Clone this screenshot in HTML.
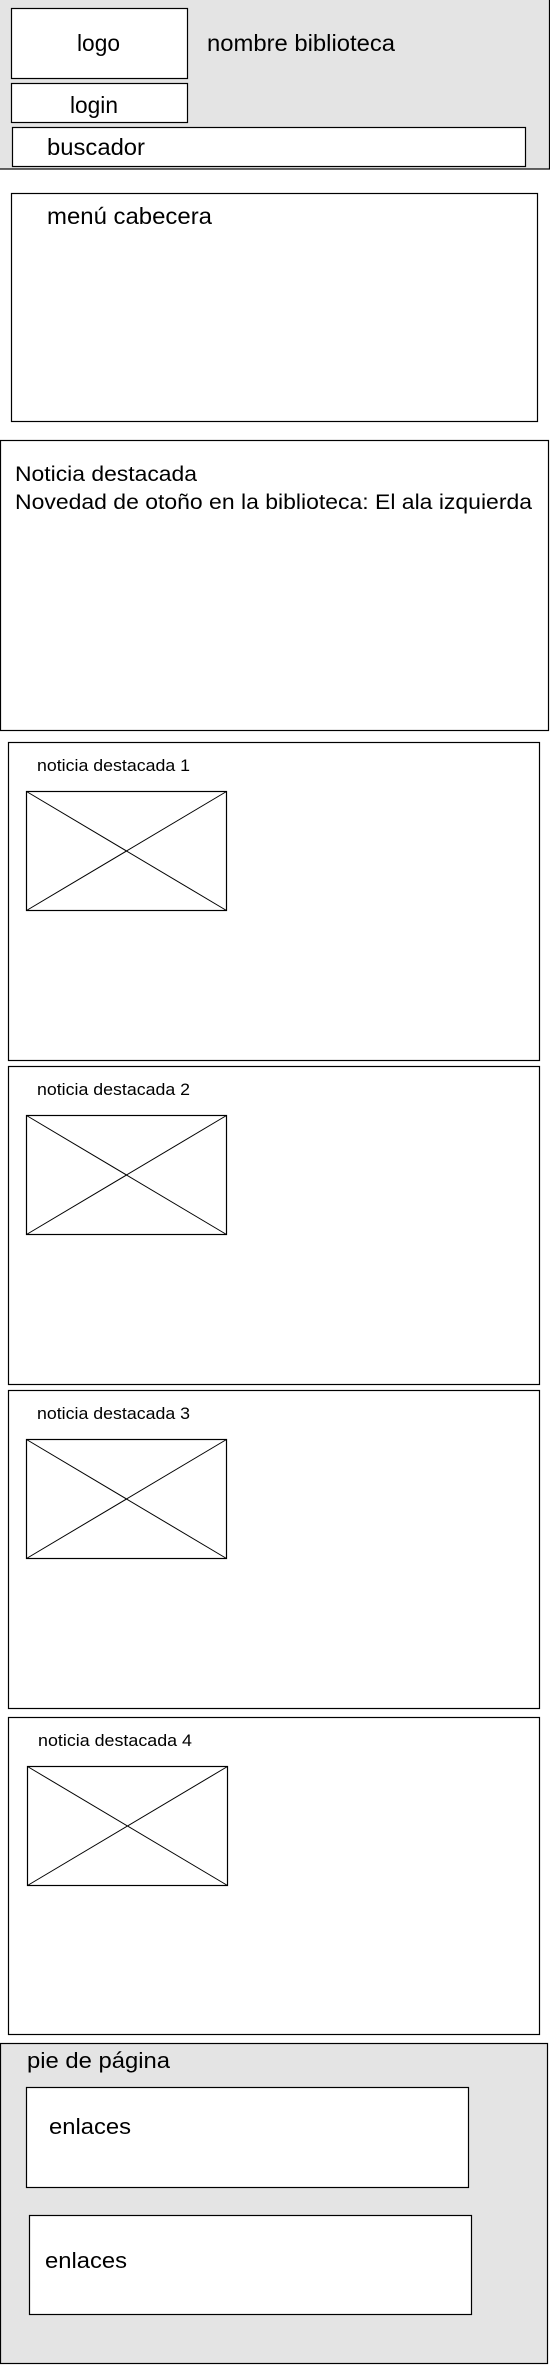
<!DOCTYPE html>
<html><head><meta charset="utf-8"><style>
html,body{margin:0;padding:0;background:#fff;}
svg{display:block;}
text{font-family:"Liberation Sans",Arial,sans-serif;fill:#000;}
</style></head><body>
<svg width="550" height="2365" viewBox="0 0 550 2365">
<g>
<rect x="-2" y="-2" width="551.5" height="171" fill="#e4e4e4" stroke="#000" stroke-width="1.2"/>
<rect x="11.5" y="8.5" width="176" height="70" fill="#fff" stroke="#000" stroke-width="1.2"/>
<text x="77" y="51" font-size="23" textLength="43" lengthAdjust="spacingAndGlyphs">logo</text>
<text x="207" y="51" font-size="23" textLength="188" lengthAdjust="spacingAndGlyphs">nombre biblioteca</text>
<rect x="11.5" y="83.5" width="176" height="39" fill="#fff" stroke="#000" stroke-width="1.2"/>
<text x="70" y="113" font-size="23" textLength="48" lengthAdjust="spacingAndGlyphs">login</text>
<rect x="12.5" y="127.5" width="513" height="39" fill="#fff" stroke="#000" stroke-width="1.2"/>
<text x="47" y="155" font-size="23" textLength="98" lengthAdjust="spacingAndGlyphs">buscador</text>
</g>
<g>
<rect x="11.5" y="193.5" width="526" height="228" fill="#fff" stroke="#000" stroke-width="1.2"/>
<text x="47" y="224" font-size="23" textLength="165" lengthAdjust="spacingAndGlyphs">menú cabecera</text>
</g>
<g>
<rect x="0.5" y="440.5" width="548" height="290" fill="#fff" stroke="#000" stroke-width="1.2"/>
<text x="15" y="481" font-size="21" textLength="182" lengthAdjust="spacingAndGlyphs">Noticia destacada</text>
<text x="15" y="509" font-size="21" textLength="517" lengthAdjust="spacingAndGlyphs">Novedad de otoño en la biblioteca: El ala izquierda</text>
</g>
<g>
<rect x="8.5" y="742.5" width="531" height="318" fill="#fff" stroke="#000" stroke-width="1.2"/>
<text x="37" y="771" font-size="16.5" textLength="153" lengthAdjust="spacingAndGlyphs">noticia destacada 1</text>
<g><rect x="26.5" y="791.5" width="200" height="119" fill="none" stroke="#000" stroke-width="1.2"/><line x1="26.5" y1="791.5" x2="226.5" y2="910.5" stroke="#000"/><line x1="226.5" y1="791.5" x2="26.5" y2="910.5" stroke="#000"/></g>
</g>
<g>
<rect x="8.5" y="1066.5" width="531" height="318" fill="#fff" stroke="#000" stroke-width="1.2"/>
<text x="37" y="1095" font-size="16.5" textLength="153" lengthAdjust="spacingAndGlyphs">noticia destacada 2</text>
<g><rect x="26.5" y="1115.5" width="200" height="119" fill="none" stroke="#000" stroke-width="1.2"/><line x1="26.5" y1="1115.5" x2="226.5" y2="1234.5" stroke="#000"/><line x1="226.5" y1="1115.5" x2="26.5" y2="1234.5" stroke="#000"/></g>
</g>
<g>
<rect x="8.5" y="1390.5" width="531" height="318" fill="#fff" stroke="#000" stroke-width="1.2"/>
<text x="37" y="1419" font-size="16.5" textLength="153" lengthAdjust="spacingAndGlyphs">noticia destacada 3</text>
<g><rect x="26.5" y="1439.5" width="200" height="119" fill="none" stroke="#000" stroke-width="1.2"/><line x1="26.5" y1="1439.5" x2="226.5" y2="1558.5" stroke="#000"/><line x1="226.5" y1="1439.5" x2="26.5" y2="1558.5" stroke="#000"/></g>
</g>
<g>
<rect x="8.5" y="1717.5" width="531" height="317" fill="#fff" stroke="#000" stroke-width="1.2"/>
<text x="38" y="1746" font-size="16.5" textLength="154" lengthAdjust="spacingAndGlyphs">noticia destacada 4</text>
<g><rect x="27.5" y="1766.5" width="200" height="119" fill="none" stroke="#000" stroke-width="1.2"/><line x1="27.5" y1="1766.5" x2="227.5" y2="1885.5" stroke="#000"/><line x1="227.5" y1="1766.5" x2="27.5" y2="1885.5" stroke="#000"/></g>
</g>
<g>
<rect x="0.5" y="2043.5" width="547" height="320" fill="#e4e4e4" stroke="#000" stroke-width="1.2"/>
<text x="27" y="2068" font-size="22" textLength="143" lengthAdjust="spacingAndGlyphs">pie de página</text>
<rect x="26.5" y="2087.5" width="442" height="100" fill="#fff" stroke="#000" stroke-width="1.2"/>
<text x="49" y="2134" font-size="22" textLength="82" lengthAdjust="spacingAndGlyphs">enlaces</text>
<rect x="29.5" y="2215.5" width="442" height="99" fill="#fff" stroke="#000" stroke-width="1.2"/>
<text x="45" y="2268" font-size="22" textLength="82" lengthAdjust="spacingAndGlyphs">enlaces</text>
</g>
</svg>
</body></html>
